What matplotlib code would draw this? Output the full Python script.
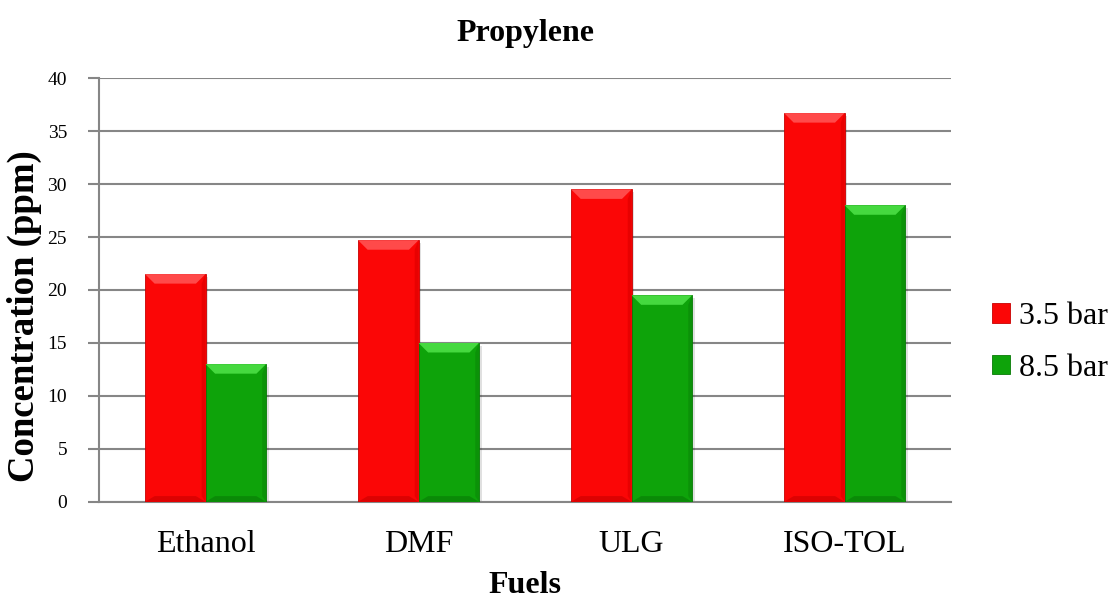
import numpy as np
import matplotlib
matplotlib.use("Agg")
import matplotlib.pyplot as plt
from matplotlib.patches import Polygon

fuels = ["Ethanol", "DMF", "ULG", "ISO-TOL"]
series_labels = ["3.5 bar", "8.5 bar"]
vals_35 = [21.5, 24.7, 29.5, 36.7]
vals_85 = [13.0, 15.0, 19.5, 28.0]

plt.rcParams["font.family"] = ["Liberation Serif", "DejaVu Serif"]

fig = plt.figure(figsize=(11.11, 6.01), dpi=100)
ax = fig.add_axes([0.0891, 0.165, 0.767, 0.705])

x = np.arange(len(fuels))
w = 0.284
styles = [
    dict(face="#fb0606", top="#ff4a4a", bot="#c80000", side="#e00000"),
    dict(face="#0ea30a", top="#45d93f", bot="#087a06", side="#0b8c08"),
]

# bevel size in data units (~10 px)
bev_x = 0.045
bev_y = 0.9

for i, (vals, st) in enumerate(zip([vals_35, vals_85], styles)):
    offs = (i - 0.5) * w
    # soft shadow
    ax.bar(x + offs + 0.012, vals, w, bottom=-0.25, color="#000000", alpha=0.12,
           zorder=2, linewidth=0)
    bars = ax.bar(x + offs, vals, w, color=st["face"], edgecolor=st["bot"],
                  linewidth=0.6, zorder=3, label=series_labels[i])
    for r in bars:
        x0, y0 = r.get_x(), r.get_y()
        bw, bh = r.get_width(), r.get_height()
        x1, y1 = x0 + bw, y0 + bh
        top = Polygon([(x0, y1), (x1, y1), (x1 - bev_x, y1 - bev_y), (x0 + bev_x, y1 - bev_y)],
                      closed=True, color=st["top"], zorder=4, linewidth=0)
        bot = Polygon([(x0, y0), (x1, y0), (x1 - bev_x, y0 + bev_y * 0.6), (x0 + bev_x, y0 + bev_y * 0.6)],
                      closed=True, color=st["bot"], zorder=4, linewidth=0, alpha=0.6)
        right = Polygon([(x1, y0), (x1, y1), (x1 - bev_x * 0.4, y1 - bev_y), (x1 - bev_x * 0.4, y0 + bev_y * 0.6)],
                        closed=True, color=st["side"], zorder=4, linewidth=0, alpha=0.7)
        ax.add_patch(top)
        ax.add_patch(bot)
        ax.add_patch(right)

ax.set_xlim(-0.5, len(fuels) - 0.5)
ax.set_ylim(0, 40)
ax.set_yticks(np.arange(0, 41, 5))
ax.set_xticks(x)
ax.set_xticklabels(fuels, fontsize=23)
ax.tick_params(axis="x", length=0, pad=20)
ax.tick_params(axis="y", labelsize=14, length=8, width=1.5, color="#868686", pad=15)

ax.grid(axis="y", color="#868686", linewidth=1.5, zorder=0)
ax.set_axisbelow(True)
for s in ["top", "right"]:
    ax.spines[s].set_visible(False)
for s in ["left", "bottom"]:
    ax.spines[s].set_color("#868686")
    ax.spines[s].set_linewidth(1.5)

ax.set_title("Propylene", fontsize=23, fontweight="bold", pad=27)
ax.set_xlabel("Fuels", fontsize=23, fontweight="bold", labelpad=9)
ax.set_ylabel("Concentration (ppm)", fontsize=26.5, fontweight="bold")
ax.yaxis.set_label_coords(-0.067, 0.438)

handles, labels = ax.get_legend_handles_labels()
fig.legend(handles, labels, loc="center left", bbox_to_anchor=(0.893, 0.43),
           frameon=False, fontsize=23, handlelength=0.55, handleheight=0.55,
           handletextpad=0.3, labelspacing=0.7, borderaxespad=0, borderpad=0)

fig.savefig("out.png", dpi=100)
